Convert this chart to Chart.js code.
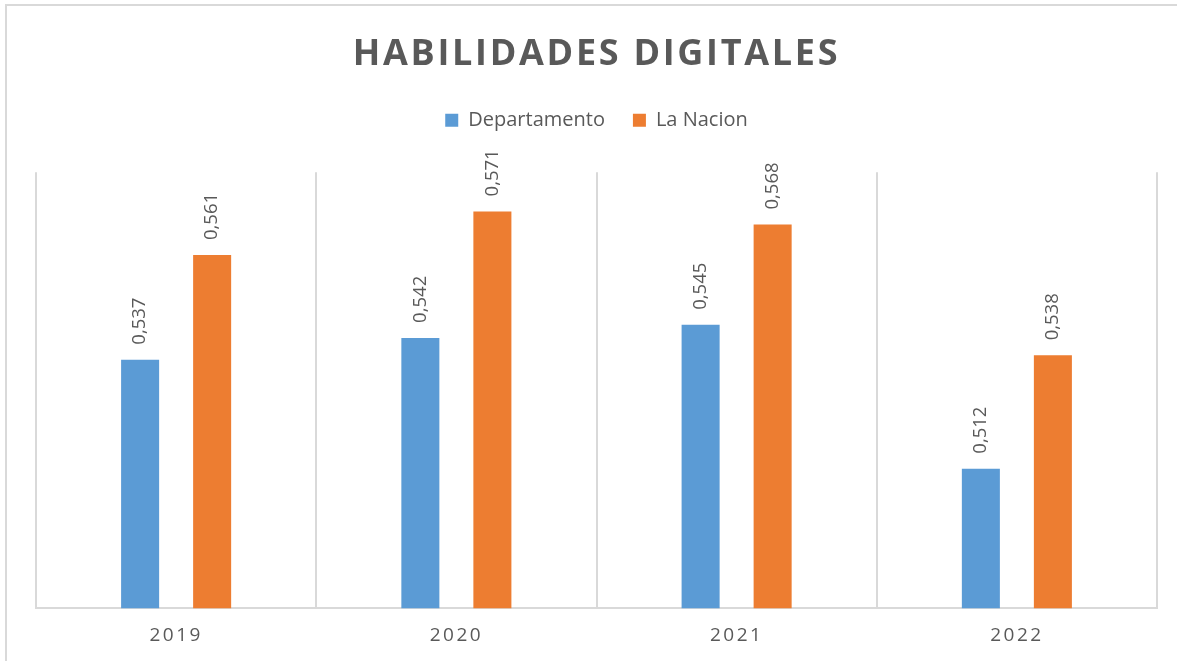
<!DOCTYPE html>
<html>
<head>
<meta charset="utf-8">
<script src="https://cdn.jsdelivr.net/npm/chart.js@4.4.0/dist/chart.umd.min.js"></script>
<style>
  html, body { margin: 0; padding: 0; background: #fff; }
  body { width: 1177px; height: 661px; overflow: hidden; position: relative; }
  #frame { position: absolute; left: 5px; top: 4px; width: 1200px; height: 700px; border: 2px solid #d9d9d9; box-sizing: border-box; }
  #wrap { position: absolute; left: 0; top: 0; width: 1177px; height: 661px; }
</style>
</head>
<body>
<div id="frame"></div>
<div id="wrap"><canvas id="grafico"></canvas></div>
<script>
// datos
const anios = ['2019', '2020', '2021', '2022'];
const departamento = [0.537, 0.542, 0.545, 0.512];
const laNacion = [0.561, 0.571, 0.568, 0.538];
const ejeMin = 0.48;
const ejeMax = 0.58;

const gris = '#595959';
const fuente = 'Open Sans';

// etiquetas verticales encima de cada barra
const etiquetas = {
  id: 'etiquetas',
  afterDatasetsDraw(chart) {
    const ctx = chart.ctx;
    chart.data.datasets.forEach((ds, i) => {
      chart.getDatasetMeta(i).data.forEach((bar, j) => {
        const txt = ds.data[j].toFixed(3).replace('.', ',');
        ctx.save();
        ctx.translate(bar.x, bar.y - 15);
        ctx.rotate(-Math.PI / 2);
        ctx.font = '18.5px "' + fuente + '"';
        ctx.fillStyle = gris;
        ctx.textAlign = 'left';
        ctx.textBaseline = 'middle';
        ctx.fillText(txt, 0, 0);
        ctx.restore();
      });
    });
  }
};

// espaciado entre letras para el titulo y los años
function espaciar(obj, metodo, px) {
  if (!obj || obj['_esp_' + metodo]) return;
  const orig = obj[metodo];
  obj[metodo] = function () {
    const ctx = this.ctx;
    ctx.save();
    ctx.letterSpacing = px;
    orig.apply(this, arguments);
    ctx.restore();
  };
  obj['_esp_' + metodo] = true;
}
const espaciado = {
  id: 'espaciado',
  beforeLayout(chart) {
    // hueco extra debajo de la leyenda
    const ley = chart.legend;
    if (ley && !ley._esp_fit) {
      const fit = ley.fit;
      ley.fit = function () {
        fit.apply(this, arguments);
        this.height += 32;
      };
      ley._esp_fit = true;
    }
  },
  afterLayout(chart) {
    espaciar(chart.titleBlock, 'draw', '2.7px');
    espaciar(chart.scales.x, 'drawLabels', '2.5px');
  }
};

const ctx = document.getElementById('grafico').getContext('2d');
new Chart(ctx, {
  type: 'bar',
  data: {
    labels: anios,
    datasets: [
      { label: 'Departamento', data: departamento, backgroundColor: '#5b9bd5' },
      { label: 'La Nacion', data: laNacion, backgroundColor: '#ed7d31' }
    ]
  },
  options: {
    responsive: true,
    maintainAspectRatio: false,
    animation: false,
    categoryPercentage: 0.514,
    barPercentage: 0.528,
    layout: { padding: { top: 0, left: 36, right: 20, bottom: -2 } },
    plugins: {
      title: {
        display: true,
        text: 'HABILIDADES DIGITALES',
        color: gris,
        font: { family: fuente, size: 36, weight: 'bold' },
        padding: { top: 33, bottom: 6 }
      },
      legend: {
        position: 'top',
        labels: {
          color: gris,
          font: { family: fuente, size: 20 },
          boxWidth: 13,
          boxHeight: 13,
          padding: 28
        }
      },
      tooltip: { enabled: false }
    },
    scales: {
      x: {
        grid: { color: '#d9d9d9', lineWidth: 2, drawTicks: false, offset: true },
        border: { color: '#d9d9d9', width: 2 },
        ticks: { color: gris, font: { family: fuente, size: 19 }, padding: 16 }
      },
      y: {
        display: false,
        min: ejeMin,
        max: ejeMax
      }
    }
  },
  plugins: [etiquetas, espaciado]
});
</script>
</body>
</html>
